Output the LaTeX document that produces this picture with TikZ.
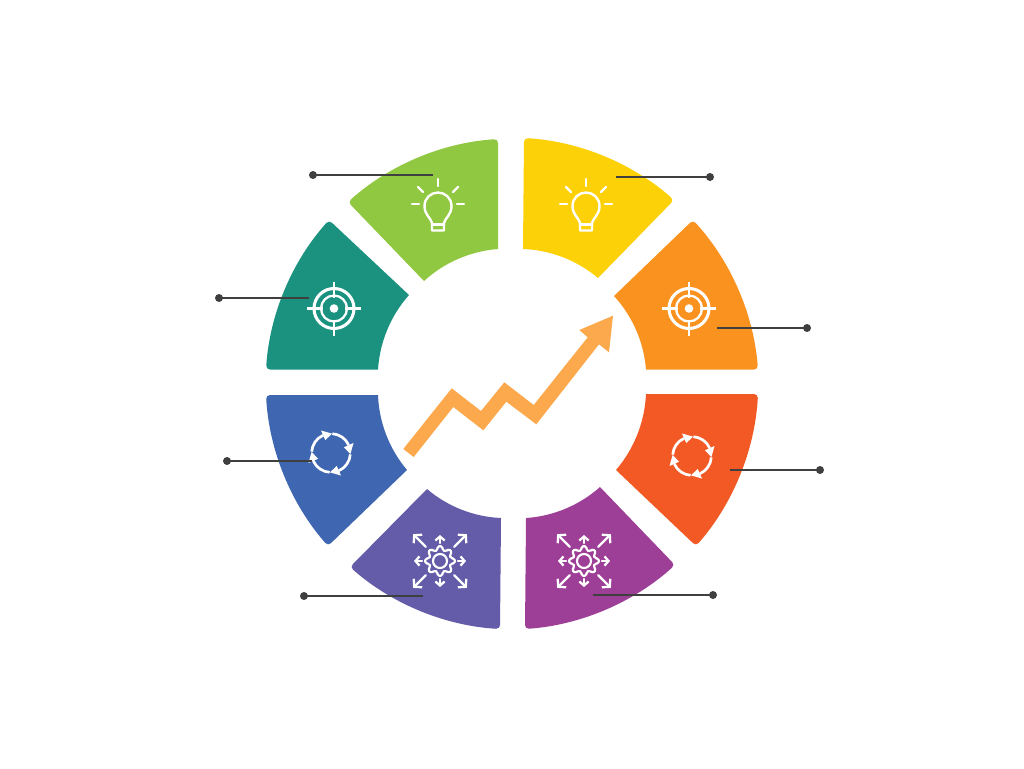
\documentclass[tikz,border=0pt]{standalone}
\usetikzlibrary{arrows.meta}
\definecolor{cgreen}{HTML}{90C841}
\definecolor{cyellow}{HTML}{FDD108}
\definecolor{corange}{HTML}{FA9220}
\definecolor{cred}{HTML}{F25924}
\definecolor{cpurple}{HTML}{9E3F97}
\definecolor{cindigo}{HTML}{645CA8}
\definecolor{cblue}{HTML}{3F67B1}
\definecolor{cteal}{HTML}{1B927F}
\definecolor{carrow}{HTML}{FBA94C}
\definecolor{cline}{HTML}{3F3F3F}
% \segment{colour}{inner1}{outer1}{outer2}{inner2}: clockwise on screen
\newcommand{\segment}[5]{%
  \fill[#1] #2 [rounded corners=3] -- #3 to[bend left=19,looseness=.875] #4 [sharp corners] -- #5 to[bend right=19,looseness=.875] #2 -- cycle;}
\tikzset{
  icon/.style={draw=white,line width=1.8pt,line cap=round,line join=round},
  leader/.style={draw=cline,line width=1.6pt},
  leaderdot/.style={circle,fill=cline,inner sep=0pt,minimum size=6pt},
  bulbicon/.pic={
    \draw[icon] (-6,19) .. controls (-7,14) and (-13.5,11) .. (-13.5,2)
      .. controls (-13.5,-6) and (-7,-11.5) .. (0,-11.5)
      .. controls (7,-11.5) and (13.5,-6) .. (13.5,2)
      .. controls (13.5,11) and (7,14) .. (6,19) -- (6,26.5) -- (-6,26.5) -- cycle;
    \draw[icon] (-6,20.5) -- (6,20.5);
    \draw[icon] (0,-25) -- (0,-18);
    \draw[icon] (-26,0) -- (-19,0);
    \draw[icon] (19,0) -- (26,0);
    \draw[icon] (-20,-17) -- (-15,-12);
    \draw[icon] (20,-17) -- (15,-12);
  },
  targeticon/.pic={
    \draw[icon,line width=2.3pt] (0,0) circle[radius=20];
    \draw[icon,line width=1.7pt] (0,0) circle[radius=13];
    \fill[white] (0,0) circle[radius=4.3];
    \draw[icon,line width=1.7pt,line cap=butt] (-27,0) -- (-11,0) (11,0) -- (27,0) (0,-27) -- (0,-11) (0,11) -- (0,27);
  },
  cycleicon/.pic={
    \foreach \s in {0,90,180,270}{
      \begin{scope}[rotate=\s]
      \draw[icon,line width=2pt,line cap=butt]
        (1.4,-19.3) .. controls (8.55,-18.8) and (14.8,-14.45) .. (17.7,-7.9);
      \fill[white] (22.5,-10) -- (12.9,-5.7) -- (19.4,1) -- cycle;
      \end{scope}
    }
  },
  gearicon/.pic={
    \draw[icon,line width=1.6pt,rounded corners=1.2pt]
      (-14:11)
      \foreach \a in {0,45,...,315}{ -- (\a-14:11) -- (\a-9:15) -- (\a+9:15) -- (\a+14:11) } -- cycle;
    \draw[icon,line width=1.6pt] (0,0) circle[radius=7];
    \foreach \a in {0,90,180,270}{
      \draw[icon,line width=1.7pt,-{Straight Barb[length=3pt,width=7pt]}] (\a:18) -- (\a:26);
    }
    \foreach \a in {45,135,225,315}{
      \draw[icon,line width=1.7pt,-{Straight Barb[length=4pt,width=9pt]}] (\a:20) -- (\a:38);
    }
  }
}
\begin{document}
\begin{tikzpicture}[x=0.75pt,y=-0.75pt]
\useasboundingbox (0,0) rectangle (1024,768);
\fill[white] (0,0) rectangle (1024,768);
% segments
\segment{cgreen}{(424,281)}{(348,202)}{(498,139)}{(498,249)}
\segment{cyellow}{(523,249)}{(524,138)}{(674,200)}{(598,278)}
\segment{corange}{(614,296)}{(693,220)}{(758,369.5)}{(646,369.5)}
\segment{cred}{(646,394)}{(758,394)}{(696,546)}{(616,470)}
\segment{cpurple}{(600,487)}{(675,565)}{(525,629)}{(526,518)}
\segment{cindigo}{(501,518)}{(500,629)}{(350,567)}{(427,489)}
\segment{cblue}{(407,470)}{(328,546)}{(266,395)}{(378,395)}
\segment{cteal}{(378,369.5)}{(266,369.5)}{(329,220)}{(409,295)}
% growth arrow
\fill[carrow] (403.3,449) -- (451.7,388.3) -- (481,411) -- (504.3,382.3) -- (533.7,405)
  -- (587.7,337.3) -- (579.3,330) -- (613,315.7) -- (609,352.3) -- (599,344.3)
  -- (536.3,424.3) -- (506.3,401.7) -- (483.3,430.3) -- (453.3,407) -- (413.7,457) -- cycle;
% icons
\pic at (438,204) {bulbicon};
\pic at (586,204) {bulbicon};
\pic at (334,308.5) {targeticon};
\pic at (689,308.5) {targeticon};
\pic at (331,453) {cycleicon};
\pic at (692,456) {cycleicon};
\pic at (440,561) {gearicon};
\pic at (584,561) {gearicon};
% leaders
\node[leaderdot] (d1) at (313,175) {};
\coordinate (e1) at (433,175);
\node[leaderdot] (d2) at (710,177) {};
\coordinate (e2) at (616,177);
\node[leaderdot] (d3) at (219,298) {};
\coordinate (e3) at (309,298);
\node[leaderdot] (d4) at (807,328) {};
\coordinate (e4) at (717,328);
\node[leaderdot] (d5) at (227,461) {};
\coordinate (e5) at (312,461);
\node[leaderdot] (d6) at (820,470) {};
\coordinate (e6) at (730,470);
\node[leaderdot] (d7) at (304,596) {};
\coordinate (e7) at (423,596);
\node[leaderdot] (d8) at (713,595) {};
\coordinate (e8) at (593,595);
\foreach \i in {1,...,8}{ \draw[leader] (d\i.center) -- (e\i); }
\end{tikzpicture}
\end{document}
